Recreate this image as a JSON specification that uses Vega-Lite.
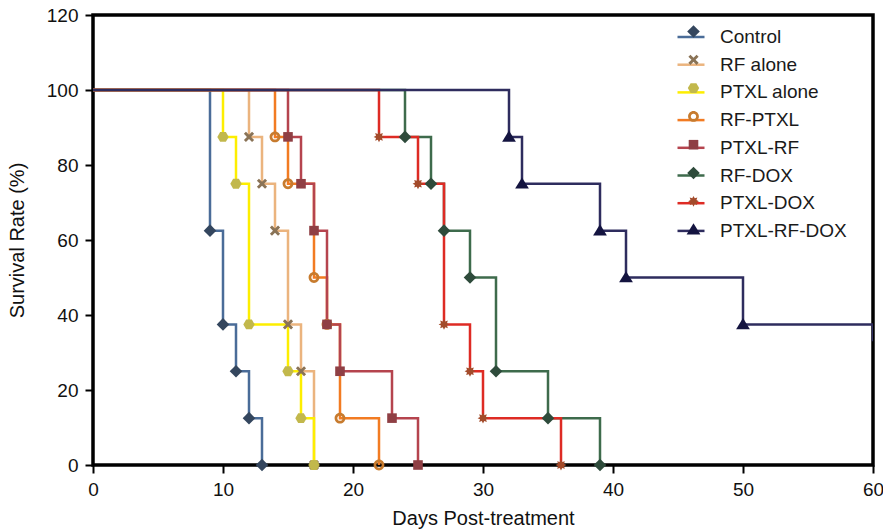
{
  "$schema": "https://vega.github.io/schema/vega-lite/v6.json",
  "width": 780,
  "height": 450,
  "autosize": {"type": "none"},
  "padding": {"left": 93, "top": 15, "right": 10, "bottom": 65},
  "background": "white",
  "config": {
    "font": "Liberation Sans",
    "view": {"stroke": "#000", "strokeWidth": 3.5},
    "axis": {"domain": false, "grid": false, "ticks": true, "tickColor": "#000", "tickWidth": 2, "tickSize": 8, "labelFontSize": 19, "labelColor": "#111", "titleFontSize": 20, "titleFontWeight": "normal", "titleColor": "#111", "labelFont": "Liberation Sans", "titleFont": "Liberation Sans", "labelFlush": false},
    "legend": {"labelFont": "Liberation Sans", "labelFontSize": 19, "labelColor": "#1a1a1a", "padding": 0}
  },
  "data": {"values": [
    {"group": "Control", "day": 0, "survival": 100},
    {"group": "Control", "day": 9, "survival": 62.5},
    {"group": "Control", "day": 10, "survival": 37.5},
    {"group": "Control", "day": 11, "survival": 25},
    {"group": "Control", "day": 12, "survival": 12.5},
    {"group": "Control", "day": 13, "survival": 0},
    {"group": "RF alone", "day": 0, "survival": 100},
    {"group": "RF alone", "day": 12, "survival": 87.5},
    {"group": "RF alone", "day": 13, "survival": 75},
    {"group": "RF alone", "day": 14, "survival": 62.5},
    {"group": "RF alone", "day": 15, "survival": 37.5},
    {"group": "RF alone", "day": 16, "survival": 25},
    {"group": "RF alone", "day": 17, "survival": 0},
    {"group": "PTXL alone", "day": 0, "survival": 100},
    {"group": "PTXL alone", "day": 10, "survival": 87.5},
    {"group": "PTXL alone", "day": 11, "survival": 75},
    {"group": "PTXL alone", "day": 12, "survival": 37.5},
    {"group": "PTXL alone", "day": 15, "survival": 25},
    {"group": "PTXL alone", "day": 16, "survival": 12.5},
    {"group": "PTXL alone", "day": 17, "survival": 0},
    {"group": "RF-PTXL", "day": 0, "survival": 100},
    {"group": "RF-PTXL", "day": 14, "survival": 87.5},
    {"group": "RF-PTXL", "day": 15, "survival": 75},
    {"group": "RF-PTXL", "day": 17, "survival": 50},
    {"group": "RF-PTXL", "day": 18, "survival": 37.5},
    {"group": "RF-PTXL", "day": 19, "survival": 12.5},
    {"group": "RF-PTXL", "day": 22, "survival": 0},
    {"group": "PTXL-RF", "day": 0, "survival": 100},
    {"group": "PTXL-RF", "day": 15, "survival": 87.5},
    {"group": "PTXL-RF", "day": 16, "survival": 75},
    {"group": "PTXL-RF", "day": 17, "survival": 62.5},
    {"group": "PTXL-RF", "day": 18, "survival": 37.5},
    {"group": "PTXL-RF", "day": 19, "survival": 25},
    {"group": "PTXL-RF", "day": 23, "survival": 12.5},
    {"group": "PTXL-RF", "day": 25, "survival": 0},
    {"group": "RF-DOX", "day": 0, "survival": 100},
    {"group": "RF-DOX", "day": 24, "survival": 87.5},
    {"group": "RF-DOX", "day": 26, "survival": 75},
    {"group": "RF-DOX", "day": 27, "survival": 62.5},
    {"group": "RF-DOX", "day": 29, "survival": 50},
    {"group": "RF-DOX", "day": 31, "survival": 25},
    {"group": "RF-DOX", "day": 35, "survival": 12.5},
    {"group": "RF-DOX", "day": 39, "survival": 0},
    {"group": "PTXL-DOX", "day": 0, "survival": 100},
    {"group": "PTXL-DOX", "day": 22, "survival": 87.5},
    {"group": "PTXL-DOX", "day": 25, "survival": 75},
    {"group": "PTXL-DOX", "day": 27, "survival": 37.5},
    {"group": "PTXL-DOX", "day": 29, "survival": 25},
    {"group": "PTXL-DOX", "day": 30, "survival": 12.5},
    {"group": "PTXL-DOX", "day": 36, "survival": 0},
    {"group": "PTXL-RF-DOX", "day": 0, "survival": 100},
    {"group": "PTXL-RF-DOX", "day": 32, "survival": 87.5},
    {"group": "PTXL-RF-DOX", "day": 33, "survival": 75},
    {"group": "PTXL-RF-DOX", "day": 39, "survival": 62.5},
    {"group": "PTXL-RF-DOX", "day": 41, "survival": 50},
    {"group": "PTXL-RF-DOX", "day": 50, "survival": 37.5},
    {"group": "PTXL-RF-DOX", "day": 60, "survival": 33}
  ]},
  "layer": [
    {
      "mark": {"type": "line", "interpolate": "step-after", "strokeWidth": 2.5, "clip": true},
      "encoding": {
        "x": {"field": "day", "type": "quantitative", "scale": {"domain": [0, 60], "nice": false}, "axis": {"values": [0, 10, 20, 30, 40, 50, 60], "title": "Days Post-treatment", "labelPadding": 7, "titlePadding": 9}},
        "y": {"field": "survival", "type": "quantitative", "scale": {"domain": [0, 120], "nice": false}, "axis": {"values": [0, 20, 40, 60, 80, 100, 120], "title": "Survival Rate (%)", "labelPadding": 7, "titlePadding": 19}},
        "color": {
          "field": "group", "type": "nominal",
          "scale": {"domain": ["Control", "RF alone", "PTXL alone", "RF-PTXL", "PTXL-RF", "RF-DOX", "PTXL-DOX", "PTXL-RF-DOX"], "range": ["#4a6c98", "#ebb47e", "#fdee00", "#f27b22", "#b5444e", "#3e6b4c", "#de2b24", "#2e2c5e"]},
          "legend": {"orient": "none", "legendX": 583, "legendY": 7, "title": null, "symbolType": "stroke", "symbolSize": 729, "symbolStrokeWidth": 2.5, "labelOffset": 14, "rowPadding": 2.7}
        }
      }
    },
    {
      "transform": [{"filter": "datum.day > 0 && datum.day < 60"}],
      "mark": {"type": "point", "filled": true, "size": 144, "opacity": 1, "strokeWidth": 0},
      "encoding": {
        "x": {"field": "day", "type": "quantitative"},
        "y": {"field": "survival", "type": "quantitative"},
        "fill": {
          "field": "group", "type": "nominal",
          "sort": ["Control", "RF alone", "PTXL alone", "RF-PTXL", "PTXL-RF", "RF-DOX", "PTXL-DOX", "PTXL-RF-DOX"],
          "scale": {"range": ["#34465e", "#8a7356", "#c2b84c", "#c77b2e", "#8f3f44", "#2e4b3b", "#a34b2b", "#141440"]},
          "legend": null
        },
        "shape": {
          "field": "group", "type": "nominal",
          "sort": ["Control", "RF alone", "PTXL alone", "RF-PTXL", "PTXL-RF", "RF-DOX", "PTXL-DOX", "PTXL-RF-DOX"],
          "scale": {"range": [
            "M0,-1.05L1.05,0L0,1.05L-1.05,0Z",
            "M-0.85,-0.51L-0.51,-0.85L0,-0.34L0.51,-0.85L0.85,-0.51L0.34,0L0.85,0.51L0.51,0.85L0,0.34L-0.51,0.85L-0.85,0.51L-0.34,0Z",
            "M-0.95,0L-0.475,-0.82L0.475,-0.82L0.95,0L0.475,0.82L-0.475,0.82Z",
            "M-0.9,0A0.9,0.9,0,1,1,0.9,0A0.9,0.9,0,1,1,-0.9,0ZM-0.45,0A0.45,0.45,0,1,0,0.45,0A0.45,0.45,0,1,0,-0.45,0Z",
            "M-0.8,-0.8L0.8,-0.8L0.8,0.8L-0.8,0.8Z",
            "M0,-1.05L1.05,0L0,1.05L-1.05,0Z",
            "M0,-0.9L0.207,-0.499L0.636,-0.636L0.499,-0.207L0.9,0L0.499,0.207L0.636,0.636L0.207,0.499L0,0.9L-0.207,0.499L-0.636,0.636L-0.499,0.207L-0.9,0L-0.499,-0.207L-0.636,-0.636L-0.207,-0.499Z",
            "M-1.15,0.8L0,-1.05L1.15,0.8Z"
          ]},
          "legend": {"orient": "none", "legendX": 591, "legendY": 7, "title": null, "symbolSize": 144, "symbolStrokeWidth": 0, "symbolFillColor": {"expr": "scale('fill', datum.value)"}, "symbolOpacity": 1, "labelOpacity": 0, "labelOffset": 14, "rowPadding": 8.3}
        }
      }
    }
  ]
}
